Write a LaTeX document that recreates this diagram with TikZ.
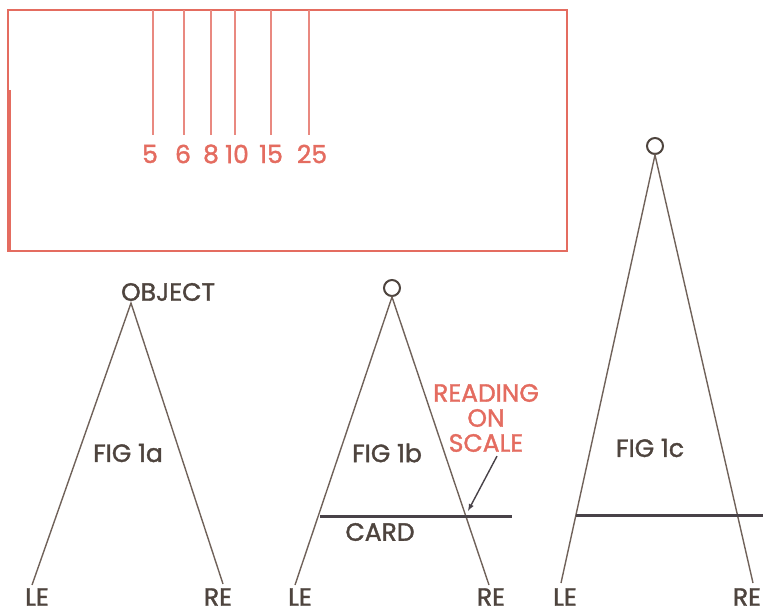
\documentclass[tikz,border=0pt]{standalone}
\usepackage{fontspec}
\setmainfont{Poppins}[FakeBold=1.5]
\usetikzlibrary{arrows, positioning}
\definecolor{scalered}{RGB}{228,108,96}
\definecolor{inkgray}{RGB}{78,68,62}
\definecolor{linegray}{RGB}{112,98,90}
\definecolor{cardgray}{RGB}{72,66,72}

\begin{document}
\begin{tikzpicture}
	[x=1pt, y=-1pt,
	inkline/.style={draw=linegray, line width=1.4pt},
	lettering/.style={text=inkgray, font=\fontsize{25}{25}\selectfont, inner sep=0pt},
	redletter/.style={lettering, text=scalered},
	eyemark/.style={circle, draw=inkgray, line width=2pt, minimum size=16pt, inner sep=0pt},
	cardline/.style={draw=cardgray, line width=3pt},
	scaletick/.style={draw=scalered!80, line width=1.2pt}]
	\useasboundingbox (0,0) rectangle (763,612);

	% the scale card
	\draw[scalered, line width=2.2pt] (8,10) rectangle (567,251);
	\draw[scalered, line width=3.5pt] (9,90) -- (9,250);
	\foreach \tx/\lx/\n in {153/150/5, 184/183/6, 211/211/8, 235/237/10, 271/271/15, 309/312/25}
	{
		\draw[scaletick] (\tx,10) -- (\tx,135);
		\node[redletter] (num \n) at (\lx,154) {\n};
	}

	% fig 1a
	\node[lettering] 		(object a)		at (168,292)	{OBJECT};
	\coordinate 			(apex a)		at (131,303);
	\coordinate 			(left a)		at (32,585);
	\coordinate 			(right a)		at (223,584);
	\draw[inkline] (left a) -- (apex a) -- (right a);
	\node[lettering] 		(fig a)			at (128,453)	{FIG 1a};
	\node[lettering] 		(le a)			at (37,597)		{LE};
	\node[lettering] 		(re a)			at (218,597)	{RE};

	% fig 1b
	\node[eyemark] 			(object b)		at (392,288)	{};
	\coordinate 			(left b)		at (295,585);
	\coordinate 			(right b)		at (489,585);
	\draw[inkline] (left b) -- (object b.south) -- (right b);
	\coordinate 			(card b start)	at (320,516);
	\coordinate 			(card b end)	at (512,516);
	\draw[cardline] (card b start) -- (card b end);
	\node[lettering] 		(card b)		at (380,532)	{CARD};
	\node[lettering] 		(fig b)			at (387,453)	{FIG 1b};
	\node[redletter, align=center] (reading) at (486,418)	{READING\\ON\\SCALE};
	\coordinate 			(reading point)	at (468,511);
	\draw[-latex, draw=cardgray, line width=1.4pt] ([xshift=11pt, yshift=-4pt]reading.south) -- (reading point);
	\node[lettering] 		(le b)			at (300,597)	{LE};
	\node[lettering] 		(re b)			at (491,597)	{RE};

	% fig 1c
	\node[eyemark] 			(object c)		at (655,146)	{};
	\coordinate 			(left c)		at (561,583);
	\coordinate 			(right c)		at (753,583);
	\draw[inkline] (left c) -- (object c.south) -- (right c);
	\coordinate 			(card c start)	at (576,515);
	\coordinate 			(card c end)	at (763,515);
	\draw[cardline] (card c start) -- (card c end);
	\node[lettering] 		(fig c)			at (650,448)	{FIG 1c};
	\node[lettering] 		(le c)			at (565,597)	{LE};
	\node[lettering] 		(re c)			at (747,597)	{RE};
\end{tikzpicture}
\end{document}
